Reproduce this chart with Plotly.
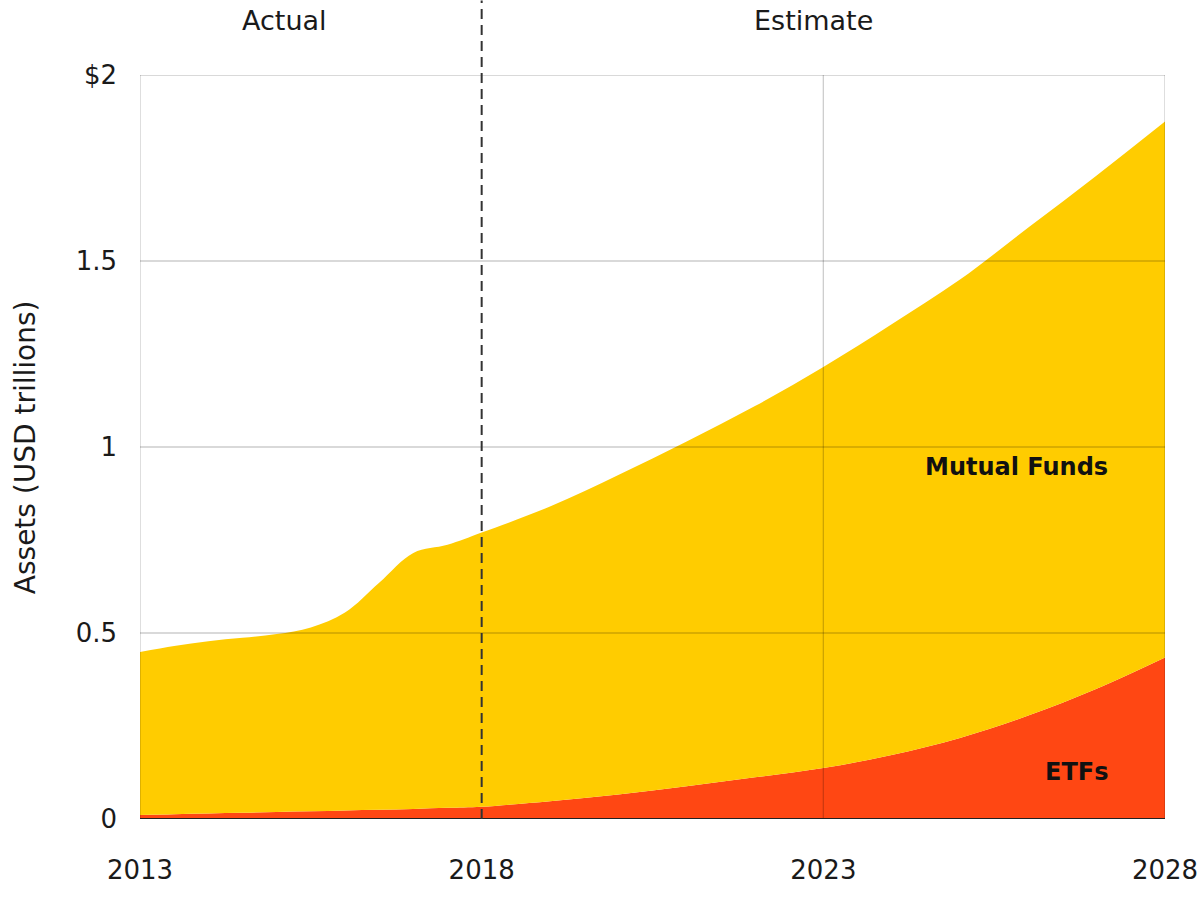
import plotly.graph_objects as go

years = [2013, 2013.5, 2014, 2014.5, 2015, 2015.5, 2016, 2016.5, 2017, 2017.5, 2018,
         2019, 2020, 2021, 2022, 2023, 2024, 2025, 2026, 2027, 2028]
etfs = [0.011, 0.013, 0.015, 0.017, 0.019, 0.021, 0.023, 0.025, 0.027, 0.030, 0.033,
        0.048, 0.066, 0.088, 0.112, 0.137, 0.172, 0.218, 0.278, 0.350, 0.434]
mutual_funds = [0.438, 0.452, 0.463, 0.470, 0.478, 0.494, 0.532, 0.610, 0.688, 0.707, 0.737,
                0.792, 0.859, 0.927, 0.998, 1.078, 1.158, 1.232, 1.312, 1.380, 1.441]

y_ticks = [0, 0.5, 1, 1.5, 2]
y_labels = ["0", "0.5", "1", "1.5", "$2"]
x_ticks = [2013, 2018, 2023, 2028]
x_labels = ["2013", "2018", "2023", "2028"]

YELLOW = "#FFCC00"
RED = "#FF4713"
FONT = "DejaVu Sans"
TXT = "#1a1a1a"

fig = go.Figure()
fig.add_trace(go.Scatter(x=years, y=etfs, stackgroup="a", mode="none",
                         fillcolor=RED, line_shape="spline", name="ETFs"))
fig.add_trace(go.Scatter(x=years, y=mutual_funds, stackgroup="a", mode="none",
                         fillcolor=YELLOW, line_shape="spline", name="Mutual Funds"))

shapes = []
grid = "rgba(0,0,0,0.2)"
for v in [0.5, 1, 1.5, 2]:
    shapes.append(dict(type="line", xref="x", yref="y", x0=2013, x1=2028, y0=v, y1=v,
                       line=dict(color=grid, width=1.3), layer="above"))
for v in [2013, 2023, 2028]:
    shapes.append(dict(type="line", xref="x", yref="y", x0=v, x1=v, y0=0, y1=2,
                       line=dict(color=grid, width=1.3), layer="above"))
shapes.append(dict(type="line", xref="x", yref="y", x0=2013, x1=2028, y0=0, y1=0,
                   line=dict(color="#222", width=2), layer="above"))
shapes.append(dict(type="line", xref="x", yref="paper", x0=2018, x1=2018, y0=0, y1=1.1,
                   line=dict(color="#333", width=2, dash="10px,6px"), layer="above"))

annotations = [
    dict(text="Actual", x=2015.12, y=1.073, xref="x", yref="paper", showarrow=False,
         font=dict(size=27, color=TXT, family=FONT), xanchor="center", yanchor="middle"),
    dict(text="Estimate", x=2022.85, y=1.073, xref="x", yref="paper", showarrow=False,
         font=dict(size=27, color=TXT, family=FONT), xanchor="center", yanchor="middle"),
    dict(text="<b>Mutual Funds</b>", x=2027.2, y=0.945, xref="x", yref="y", showarrow=False,
         font=dict(size=24, color="#111", family=FONT), xanchor="right", yanchor="middle"),
    dict(text="<b>ETFs</b>", x=2027.2, y=0.126, xref="x", yref="y", showarrow=False,
         font=dict(size=24, color="#111", family=FONT), xanchor="right", yanchor="middle"),
    dict(text="Assets (USD trillions)", x=-0.112, y=0.5, xref="paper", yref="paper",
         showarrow=False, textangle=-90,
         font=dict(size=28, color=TXT, family=FONT), xanchor="center", yanchor="middle"),
]

fig.update_layout(
    width=1200, height=906,
    margin=dict(l=140, r=35, t=75, b=87, autoexpand=False),
    paper_bgcolor="white", plot_bgcolor="white",
    showlegend=False,
    font=dict(family=FONT, size=26, color=TXT),
    shapes=shapes, annotations=annotations,
    xaxis=dict(range=[2013, 2028], tickvals=x_ticks, ticktext=x_labels, showgrid=False,
               zeroline=False, showline=False, ticks="", ticklabelstandoff=33,
               tickfont=dict(size=26, family=FONT, color=TXT)),
    yaxis=dict(range=[0, 2], tickvals=y_ticks, ticktext=y_labels, showgrid=False,
               zeroline=False, showline=False, ticks="", ticklabelstandoff=22,
               tickfont=dict(size=26, family=FONT, color=TXT)),
)

fig.write_html("out.html", config={"displayModeBar": False},
               post_script="document.body.style.margin='0';document.body.style.overflow='hidden';")
